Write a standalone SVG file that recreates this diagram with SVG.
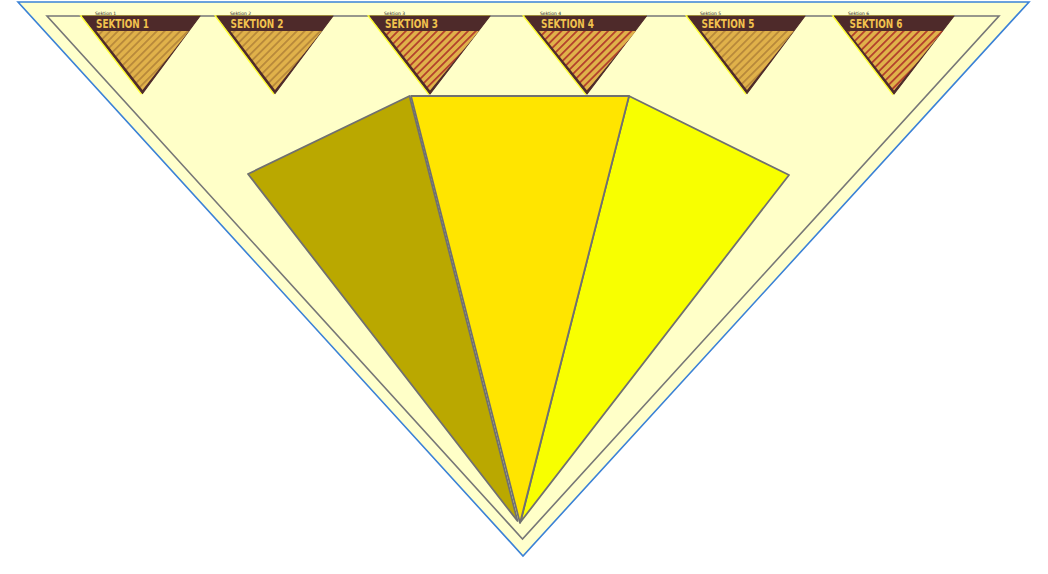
<svg xmlns="http://www.w3.org/2000/svg" width="1048" height="574" viewBox="0 0 1048 574">
<style>
.frame{fill:#ffffcc;stroke:#3b82d6;stroke-width:1.6}
.inner{fill:#ffffc8;stroke:#777;stroke-width:1.6}
.fan{stroke:#707070;stroke-width:1.8;stroke-linejoin:round}
.glow{fill:none;stroke:#ffff33;stroke-width:1.6}
.tri{fill:#4e2a2a;stroke:#4e2a2a;stroke-width:1.2;stroke-linejoin:round}
.lbl{font-family:"DejaVu Sans Condensed","DejaVu Sans",sans-serif;font-weight:bold;font-size:13px;fill:#f2c24e}
.tiny{font-family:"DejaVu Sans",sans-serif;font-size:4.5px;fill:#222}
</style>
<defs>
<pattern id="hA" patternUnits="userSpaceOnUse" width="5.5" height="5.5" patternTransform="rotate(45)">
<rect width="5.5" height="5.5" fill="#e0b14a"/><rect width="1.8" height="5.5" fill="#b8893a"/>
</pattern>
<pattern id="hB" patternUnits="userSpaceOnUse" width="5.5" height="5.5" patternTransform="rotate(45)">
<rect width="5.5" height="5.5" fill="#e0b14a"/><rect width="1.8" height="5.5" fill="#b3402c"/>
</pattern>
</defs>
<g id="frame"><polygon class="frame" points="18,2 1029,2 523,556"/></g>
<g id="inner"><polygon class="inner" points="47,16 999,16 522.5,539"/></g>
<g id="tinylabels">
<text class="tiny" x="95" y="15">Sektion 1</text>
<text class="tiny" x="230" y="15">Sektion 2</text>
<text class="tiny" x="384" y="15">Sektion 3</text>
<text class="tiny" x="540" y="15">Sektion 4</text>
<text class="tiny" x="700" y="15">Sektion 5</text>
<text class="tiny" x="848" y="15">Sektion 6</text>
</g>
<g id="s1">
<polygon class="glow" points="81,16 198.5,16 141,93.5" />
<polygon class="tri" points="82.5,16 200,16 142.5,93.5"/>
<polygon fill="url(#hA)" points="96.5,31 189,31 142.5,90"/>
<text class="lbl" x="96" y="27.5" textLength="53" lengthAdjust="spacingAndGlyphs">SEKTION 1</text>
</g>
<g id="s2">
<polygon class="glow" points="215.5,16 331.5,16 273.5,93.5"/>
<polygon class="tri" points="217,16 333,16 275,93.5"/>
<polygon fill="url(#hA)" points="230.5,31 322,31 275,90"/>
<text class="lbl" x="230.5" y="27.5" textLength="53" lengthAdjust="spacingAndGlyphs">SEKTION 2</text>
</g>
<g id="s3">
<polygon class="glow" points="368.5,16 488.5,16 428.5,94"/>
<polygon class="tri" points="370,16 490,16 430,94"/>
<polygon fill="url(#hB)" points="384,31 479,31 430,90.5"/>
<text class="lbl" x="385" y="27.5" textLength="53" lengthAdjust="spacingAndGlyphs">SEKTION 3</text>
</g>
<g id="s4">
<polygon class="glow" points="523.5,16 645,16 585.5,94"/>
<polygon class="tri" points="525,16 646.5,16 587,94"/>
<polygon fill="url(#hB)" points="539,31 636,31 587,90.5"/>
<text class="lbl" x="541" y="27.5" textLength="53" lengthAdjust="spacingAndGlyphs">SEKTION 4</text>
</g>
<g id="s5">
<polygon class="glow" points="686.5,16 803.5,16 745.5,93.5"/>
<polygon class="tri" points="688,16 805,16 747,93.5"/>
<polygon fill="url(#hA)" points="701.5,31 794,31 747,90"/>
<text class="lbl" x="701.5" y="27.5" textLength="53" lengthAdjust="spacingAndGlyphs">SEKTION 5</text>
</g>
<g id="s6">
<polygon class="glow" points="833,16 952.5,16 892.5,94"/>
<polygon class="tri" points="834.5,16 954,16 894,94"/>
<polygon fill="url(#hB)" points="847.5,31 943,31 894,90.5"/>
<text class="lbl" x="849.5" y="27.5" textLength="53" lengthAdjust="spacingAndGlyphs">SEKTION 6</text>
</g>
<g id="fan-left"><polygon class="fan" fill="#baa800" points="248,174 409.5,96 517.5,521"/></g>
<g id="fan-right"><polygon class="fan" fill="#f8ff00" points="629,96 789,175 520.5,522"/></g>
<g id="fan-middle"><polygon class="fan" fill="#ffe500" points="411,96 629,96 520,523"/></g>
<g id="connectors"></g>
</svg>
